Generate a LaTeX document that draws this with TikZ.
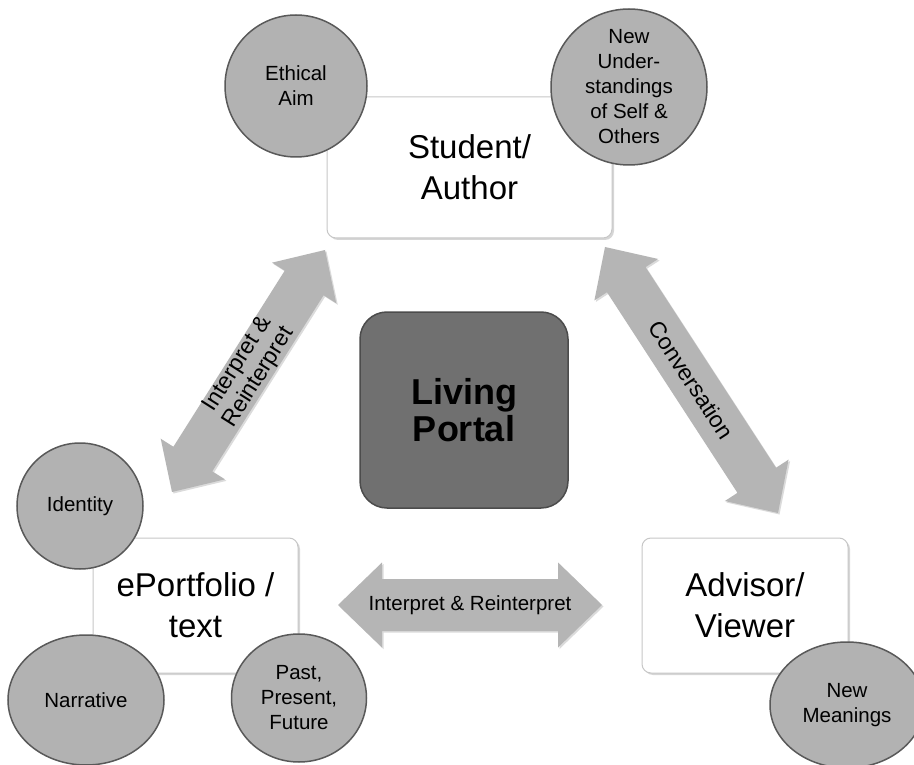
\documentclass[tikz,border=0pt]{standalone}
\usepackage{fontspec}
\setmainfont{Liberation Sans}
\usetikzlibrary{calc,shapes.geometric,shadows}

% Double-headed block arrow between two named coordinates:
% #1,#2 end points, #3 head length, #4 half head width, #5 half shaft width
\newcommand{\blockarrow}[5]{%
  \coordinate (#1-p) at ($(#1)!#3!(#2)$);
  \coordinate (#1-q) at ($(#2)!#3!(#1)$);
  \def\arrowoutline{(#1) -- ($(#1-p)!#4!90:(#2)$) -- ($(#1-p)!#5!90:(#2)$)
    -- ($(#1-q)!#5!-90:(#1)$) -- ($(#1-q)!#4!-90:(#1)$) -- (#2)
    -- ($(#1-q)!#4!90:(#1)$) -- ($(#1-q)!#5!90:(#1)$)
    -- ($(#1-p)!#5!-90:(#2)$) -- ($(#1-p)!#4!-90:(#2)$) -- cycle}%
  \fill[arrowshade, transform canvas={shift={(1.5pt,-1.5pt)}}] \arrowoutline;
  \fill[arrowbody] \arrowoutline;
}

\tikzset{
  rolebox/.style={draw=black!22, line width=1pt, fill=white, rounded corners=9pt,
    align=center, inner sep=0pt, font=\fontsize{33}{41}\selectfont,
    drop shadow={shadow xshift=2pt, shadow yshift=-2pt, fill=black!35, opacity=0.45}},
  bubble/.style={draw=black!65, line width=1.5pt, fill=black!30, align=center,
    inner sep=0pt, font=\fontsize{20.5}{25}\selectfont},
  roundbub/.style={bubble, circle},
  ovalbub/.style={bubble, ellipse},
  hub/.style={draw=black!70, line width=1.5pt, fill=black!56, rounded corners=27pt,
    align=center, inner sep=0pt, minimum width=208pt, minimum height=196pt,
    font=\fontsize{36}{37}\selectfont\bfseries},
  arrowbody/.style={fill=black!29},
  arrowshade/.style={fill=black!14},
  arrowtext/.style={align=center, inner sep=0pt},
  smalltext/.style={font=\fontsize{20.5}{24}\selectfont},
  slanttext/.style={font=\fontsize{23}{25}\selectfont}
}

\begin{document}
\begin{tikzpicture}[x=1pt, y=-1pt]
  \clip (0,0) rectangle (914,765);
  \fill[white] (0,0) rectangle (914,765);

  % the three roles
  \node[rolebox, minimum width=285pt, minimum height=141pt] (student) at (469.5,167.5) {Student/\\Author};
  \node[rolebox, minimum width=205pt, minimum height=135pt] (eport) at (195.5,605.5) {ePortfolio /\\text};
  \node[rolebox, minimum width=206pt, minimum height=135pt] (advisor) at (745,605.5) {Advisor/\\Viewer};

  % centre
  \node[hub] (portal) at (464,410) {Living\\Portal};

  % bubbles around the roles
  \node[roundbub, minimum size=142pt] (ethical) at (296,86) {Ethical\\Aim};
  \node[roundbub, minimum size=156pt] (newunder) at (629,87) {New\\Under-\\standings\\of Self \&\\Others};
  \node[roundbub, minimum size=126pt] (identity) at (80,506) {Identity};
  \node[ovalbub, minimum width=156pt, minimum height=130pt] (narrative) at (86,700) {Narrative};
  \node[ovalbub, minimum width=135pt, minimum height=128pt] (past) at (299,698) {Past,\\Present,\\Future};
  \node[ovalbub, minimum width=154pt, minimum height=126pt] (newmean) at (847,705) {New\\Meanings};

  % arrow end points
  \coordinate (leftlow) at (172,492);
  \coordinate (lefthigh) at (325,250);
  \coordinate (righthigh) at (605,247);
  \coordinate (rightlow) at (778,513);
  \coordinate (midleft) at (338,605);
  \coordinate (midright) at (602,605);

  % block arrows
  \blockarrow{leftlow}{lefthigh}{39pt}{38pt}{23pt}
  \blockarrow{righthigh}{rightlow}{39pt}{38pt}{23pt}
  \blockarrow{midleft}{midright}{44pt}{42.5pt}{26pt}

  % arrow labels
  \path (leftlow) -- (lefthigh) node[midway, sloped, arrowtext, slanttext] (interpA) {Interpret \&\\Reinterpret};
  \path (righthigh) -- (rightlow) node[midway, sloped, arrowtext, slanttext] (convers) {Conversation};
  \path (midleft) -- (midright) node[midway, arrowtext, smalltext] (interpB) {Interpret \& Reinterpret};
\end{tikzpicture}
\end{document}
